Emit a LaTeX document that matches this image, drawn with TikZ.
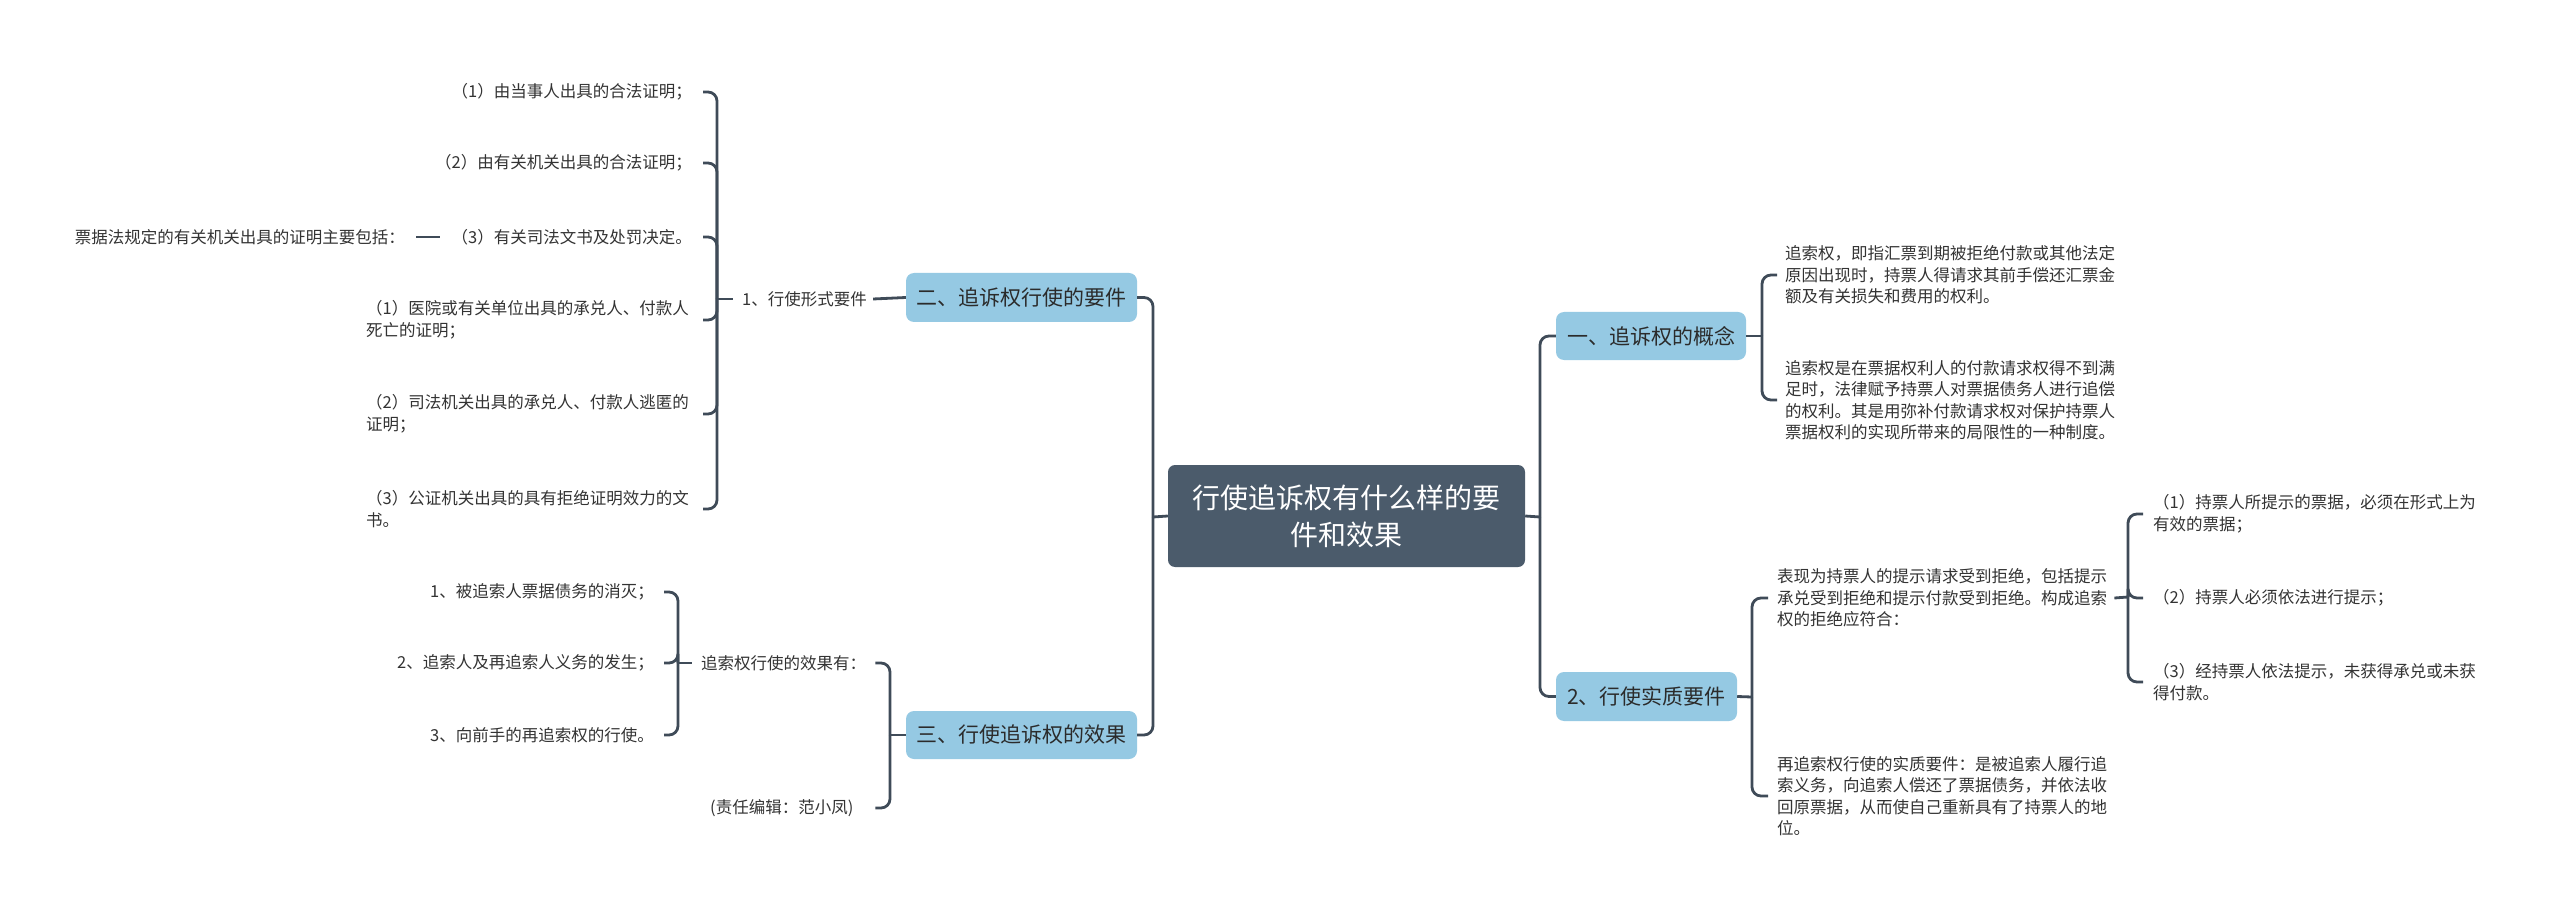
\documentclass[tikz,border=0pt]{standalone}
\usepackage{fontspec}
\setmainfont{Noto Sans CJK SC}
\definecolor{linec}{HTML}{3F4B58}
\definecolor{rootc}{HTML}{4B5B6B}
\definecolor{bluec}{HTML}{95C9E3}
\definecolor{txt}{HTML}{333333}
\definecolor{btxt}{HTML}{2B2B2B}
\begin{document}
\begin{tikzpicture}[x=1pt,y=-1pt,
  conn/.style={draw=linec, line width=2.8pt, rounded corners=9pt},
  leaf/.style={inner sep=0pt, font=\fontsize{16.5}{21.5}\selectfont, text=txt, align=left},
  branch/.style={fill=bluec, rounded corners=8pt, text=btxt, font=\fontsize{21}{25}\selectfont, inner sep=0pt},
  rootbox/.style={fill=rootc, rounded corners=7pt, text=white, font=\fontsize{28}{37}\selectfont, align=center, inner sep=0pt}]
\fill[white] (0,0) rectangle (2560,917);
\useasboundingbox (0,0) rectangle (2560,917);

% root and main branches
\node[rootbox, minimum width=357pt, minimum height=102pt] (root) at (1346.5,516) {行使追诉权有什么样的要\\件和效果};
\node[branch, minimum width=231pt, minimum height=49pt] (b2) at (1021.5,297.5) {二、追诉权行使的要件};
\node[branch, minimum width=231pt, minimum height=48pt] (b3) at (1021.5,735) {三、行使追诉权的效果};
\node[branch, minimum width=190pt, minimum height=48pt] (b1) at (1651,336) {一、追诉权的概念};
\node[branch, minimum width=181pt, minimum height=49pt] (b4) at (1646.5,696.5) {2、行使实质要件};

\coordinate (sL) at (1153,517);
\coordinate (sR) at (1540,517);
\draw[conn] (root.west) -- (sL);
\draw[conn] (b2.east) -| (sL);
\draw[conn] (b3.east) -| (sL);
\draw[conn] (root.east) -- (sR);
\draw[conn] (b1.west) -| (sR);
\draw[conn] (b4.west) -| (sR);

% branch 二
\node[leaf, anchor=west] (f1) at (742,299) {1、行使形式要件};
\draw[conn] ([xshift=6pt]f1.east) -- (b2.west);
\coordinate (s1) at (717,299);
\draw[conn] (s1) -- ([xshift=-9pt]f1.west);
\node[leaf, anchor=east] (c1) at (692,92) {（1）由当事人出具的合法证明；};
\node[leaf, anchor=east] (c2) at (692,163) {（2）由有关机关出具的合法证明；};
\node[leaf, anchor=east] (c3) at (692,237) {（3）有关司法文书及处罚决定。};
\node[leaf, anchor=east] (c4) at (689,320) {（1）医院或有关单位出具的承兑人、付款人\\死亡的证明；};
\node[leaf, anchor=east] (c5) at (689,414) {（2）司法机关出具的承兑人、付款人逃匿的\\证明；};
\node[leaf, anchor=east] (c6) at (689,509) {（3）公证机关出具的具有拒绝证明效力的文\\书。};
\draw[conn] ([xshift=11pt]c1.east) -| (s1);
\draw[conn] ([xshift=11pt]c2.east) -| (s1);
\draw[conn] ([xshift=11pt]c3.east) -| (s1);
\draw[conn] ([xshift=14pt]c4.east) -| (s1);
\draw[conn] ([xshift=14pt]c5.east) -| (s1);
\draw[conn] ([xshift=14pt]c6.east) -| (s1);
\node[leaf, anchor=east] (g1) at (405,237) {票据法规定的有关机关出具的证明主要包括：};
\draw[conn] ([xshift=11pt]g1.east) -- ([xshift=-11pt]c3.west);

% branch 三
\coordinate (s8) at (890,735);
\draw[conn] (b3.west) -- (s8);
\node[leaf, anchor=west] (e1) at (701,663) {追索权行使的效果有：};
\node[leaf, anchor=west] (e2) at (710,808) {(责任编辑：范小凤)};
\path (e1.east) ++(9,0) coordinate (e1r);
\draw[conn] (e1r) -| (s8);
\draw[conn] (e1r |- e2.east) -| (s8);
\coordinate (s9) at (678,663);
\draw[conn] (s9) -- ([xshift=-9pt]e1.west);
\node[leaf, anchor=east] (d1) at (654,592) {1、被追索人票据债务的消灭；};
\node[leaf, anchor=east] (d2) at (654,663) {2、追索人及再追索人义务的发生；};
\node[leaf, anchor=east] (d3) at (654,735) {3、向前手的再追索权的行使。};
\draw[conn] ([xshift=10pt]d1.east) -| (s9);
\draw[conn] ([xshift=10pt]d2.east) -| (s9);
\draw[conn] ([xshift=10pt]d3.east) -| (s9);

% branch 一
\coordinate (s5) at (1762,336);
\draw[conn] (b1.east) -- (s5);
\node[leaf, anchor=west] (r1) at (1785,275) {追索权，即指汇票到期被拒绝付款或其他法定\\原因出现时，持票人得请求其前手偿还汇票金\\额及有关损失和费用的权利。};
\node[leaf, anchor=west] (r2) at (1785,400) {追索权是在票据权利人的付款请求权得不到满\\足时，法律赋予持票人对票据债务人进行追偿\\的权利。其是用弥补付款请求权对保护持票人\\票据权利的实现所带来的局限性的一种制度。};
\draw[conn] ([xshift=-8pt]r1.west) -| (s5);
\draw[conn] ([xshift=-8pt]r2.west) -| (s5);

% branch 2
\coordinate (s6) at (1752,697);
\draw[conn] (b4.east) -- (s6);
\node[leaf, anchor=west] (m1) at (1777,598) {表现为持票人的提示请求受到拒绝，包括提示\\承兑受到拒绝和提示付款受到拒绝。构成追索\\权的拒绝应符合：};
\node[leaf, anchor=west] (m2) at (1777,796) {再追索权行使的实质要件：是被追索人履行追\\索义务，向追索人偿还了票据债务，并依法收\\回原票据，从而使自己重新具有了持票人的地\\位。};
\draw[conn] ([xshift=-9pt]m1.west) -| (s6);
\draw[conn] ([xshift=-9pt]m2.west) -| (s6);
\coordinate (s7) at (2128,597);
\draw[conn] ([xshift=7pt]m1.east) -- (s7);
\node[leaf, anchor=west] (n1) at (2153,514) {（1）持票人所提示的票据，必须在形式上为\\有效的票据；};
\node[leaf, anchor=west] (n2) at (2153,598) {（2）持票人必须依法进行提示；};
\node[leaf, anchor=west] (n3) at (2153,682) {（3）经持票人依法提示，未获得承兑或未获\\得付款。};
\draw[conn] ([xshift=-10pt]n1.west) -| (s7);
\draw[conn] ([xshift=-10pt]n2.west) -| (s7);
\draw[conn] ([xshift=-10pt]n3.west) -| (s7);
\end{tikzpicture}
\end{document}
